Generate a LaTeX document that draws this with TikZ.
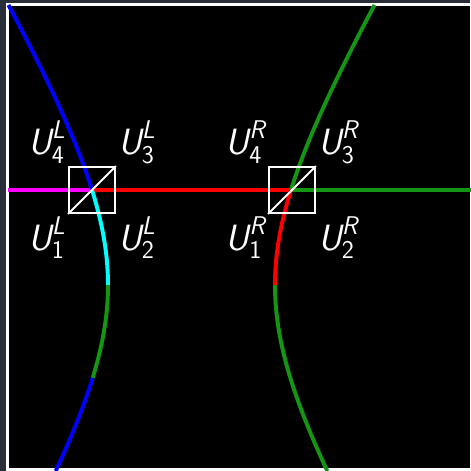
\documentclass[tikz,border=0pt]{standalone}
\usepackage{amsmath}
\usepackage{tikz}
\usetikzlibrary{positioning}
\definecolor{plotgreen}{RGB}{20,150,20}
\definecolor{plotcyan}{RGB}{0,255,255}
\definecolor{plotmagenta}{RGB}{255,0,255}
\definecolor{framegray}{RGB}{42,46,56}
\newcommand{\ulab}[2]{$\textsl{U}^{\textsl{#1}}_{\textsf{#2}}$}

\begin{document}
\begin{tikzpicture}[x=0.025cm,y=-0.025cm]
		\tikzset{curve/.style={line width=2.8pt},
			cell/.style={draw=white,line width=1.4pt,minimum size=1.15cm,inner sep=0pt},
			lab/.style={text=white,font=\sffamily\fontsize{26}{30}\selectfont,inner sep=1.5pt}};
		\useasboundingbox (0,0) rectangle (470,471);
		\fill[framegray] (0,0) rectangle (470,471);
		\fill[black] (8,5) rectangle (470,469);
		\draw[white,line width=2.1pt] (472,4.5) -- (7.5,4.5) -- (7.5,469.5) -- (472,469.5);
		
		\node[cell] (bl) at (92,190) {};
		\node[cell] (br) at (292,190) {};
		\coordinate (lend) at (8,190);
		\coordinate (rend) at (472,190);
		
		\draw[curve,plotmagenta] (lend) -- (bl.center);
		\draw[curve,red] (bl.center) -- (br.center);
		\draw[curve,plotgreen] (br.center) -- (rend);
		
		\draw[curve,blue] plot[domain=5:190,variable=\t,samples=40] ({206-98*sqrt(1+((\t-285)/160)^2)},\t);
		\draw[curve,plotcyan] plot[domain=190:285,variable=\t,samples=30] ({206-98*sqrt(1+((\t-285)/160)^2)},\t);
		\draw[curve,plotgreen] plot[domain=285:378,variable=\t,samples=30] ({206-98*sqrt(1+((\t-285)/160)^2)},\t);
		\draw[curve,blue] plot[domain=378:471,variable=\t,samples=30] ({206-98*sqrt(1+((\t-285)/160)^2)},\t);
		
		\draw[curve,plotgreen] plot[domain=5:190,variable=\t,samples=40] ({177+98*sqrt(1+((\t-285)/160)^2)},\t);
		\draw[curve,red] plot[domain=190:285,variable=\t,samples=30] ({177+98*sqrt(1+((\t-285)/160)^2)},\t);
		\draw[curve,plotgreen] plot[domain=285:471,variable=\t,samples=40] ({177+98*sqrt(1+((\t-285)/160)^2)},\t);
		
		\node[cell] at (bl) {};
		\node[cell] at (br) {};
		\draw[white,line width=1.4pt] (bl.south west) -- (bl.north east);
		\draw[white,line width=1.4pt] (br.south west) -- (br.north east);
		
		\node[lab,anchor=south east] (u4l) at (bl.north west) {\ulab{L}{4}};
		\node[lab,anchor=south west] (u3l) at (bl.north east) {\ulab{L}{3}};
		\node[lab,anchor=north east] (u1l) at (bl.south west) {\ulab{L}{1}};
		\node[lab,anchor=north west] (u2l) at (bl.south east) {\ulab{L}{2}};
		\node[lab,anchor=south east] (u4r) at (br.north west) {\ulab{R}{4}};
		\node[lab,anchor=south west] (u3r) at (br.north east) {\ulab{R}{3}};
		\node[lab,anchor=north east] (u1r) at (br.south west) {\ulab{R}{1}};
		\node[lab,anchor=north west] (u2r) at (br.south east) {\ulab{R}{2}};
	\end{tikzpicture}
\end{document}
